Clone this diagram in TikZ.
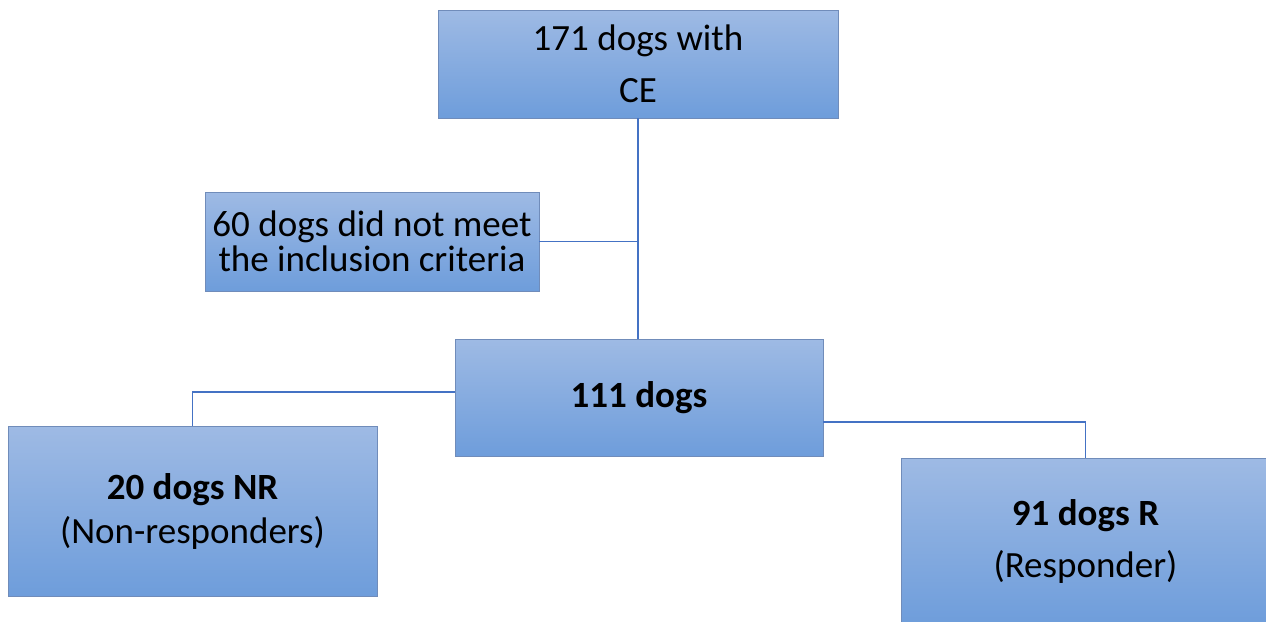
\documentclass[tikz,border=0pt]{standalone}
\usepackage{fontspec}
\setmainfont{Carlito}
\usepackage{xcolor}
\usepackage{tikz}
\usetikzlibrary{calc}

\definecolor{boxtop}{RGB}{158,186,228}
\definecolor{boxbot}{RGB}{110,157,219}
\definecolor{boxline}{RGB}{112,140,186}
\definecolor{linkblue}{RGB}{68,114,196}

\begin{document}
\begin{tikzpicture}[
  x=1pt, y=-1pt,
  font=\fontsize{37}{44}\selectfont,
  box/.style={rectangle, draw=boxline, line width=0.8pt, top color=boxtop,
              bottom color=boxbot, align=center, inner sep=0pt},
  link/.style={draw=linkblue, line width=1.5pt}
]
\useasboundingbox (0,0) rectangle (1266,621);
\clip (0,0) rectangle (1266,621);
\node[box, minimum width=400, minimum height=108] (ce) at (638,64)
  {171 dogs with\\[8pt] CE};
\node[box, minimum width=334, minimum height=99] (excl) at (372,241.5)
  {60 dogs did not meet\\[-9pt] the inclusion criteria};
\node[box, minimum width=368, minimum height=117, font=\fontsize{37}{44}\selectfont\bfseries] (main) at (639,397.5)
  {111 dogs};
\node[box, minimum width=369, minimum height=170] (nr) at (192.5,511)
  {\textbf{20 dogs NR}\\[0pt] (Non-responders)};
\node[box, minimum width=369, minimum height=167] (resp) at (1085.5,541.5)
  {\textbf{91 dogs R}\\[8pt] (Responder)};
% connectors
\draw[link] (ce.south) -- (ce.south |- main.north);
\draw[link] (excl.east) -- (excl.east -| ce.south);
\draw[link] ([yshift=5.5pt]main.west) -| (nr.north);
\draw[link] ([yshift=-24.5pt]main.east) -| (resp.north);
\end{tikzpicture}
\end{document}
